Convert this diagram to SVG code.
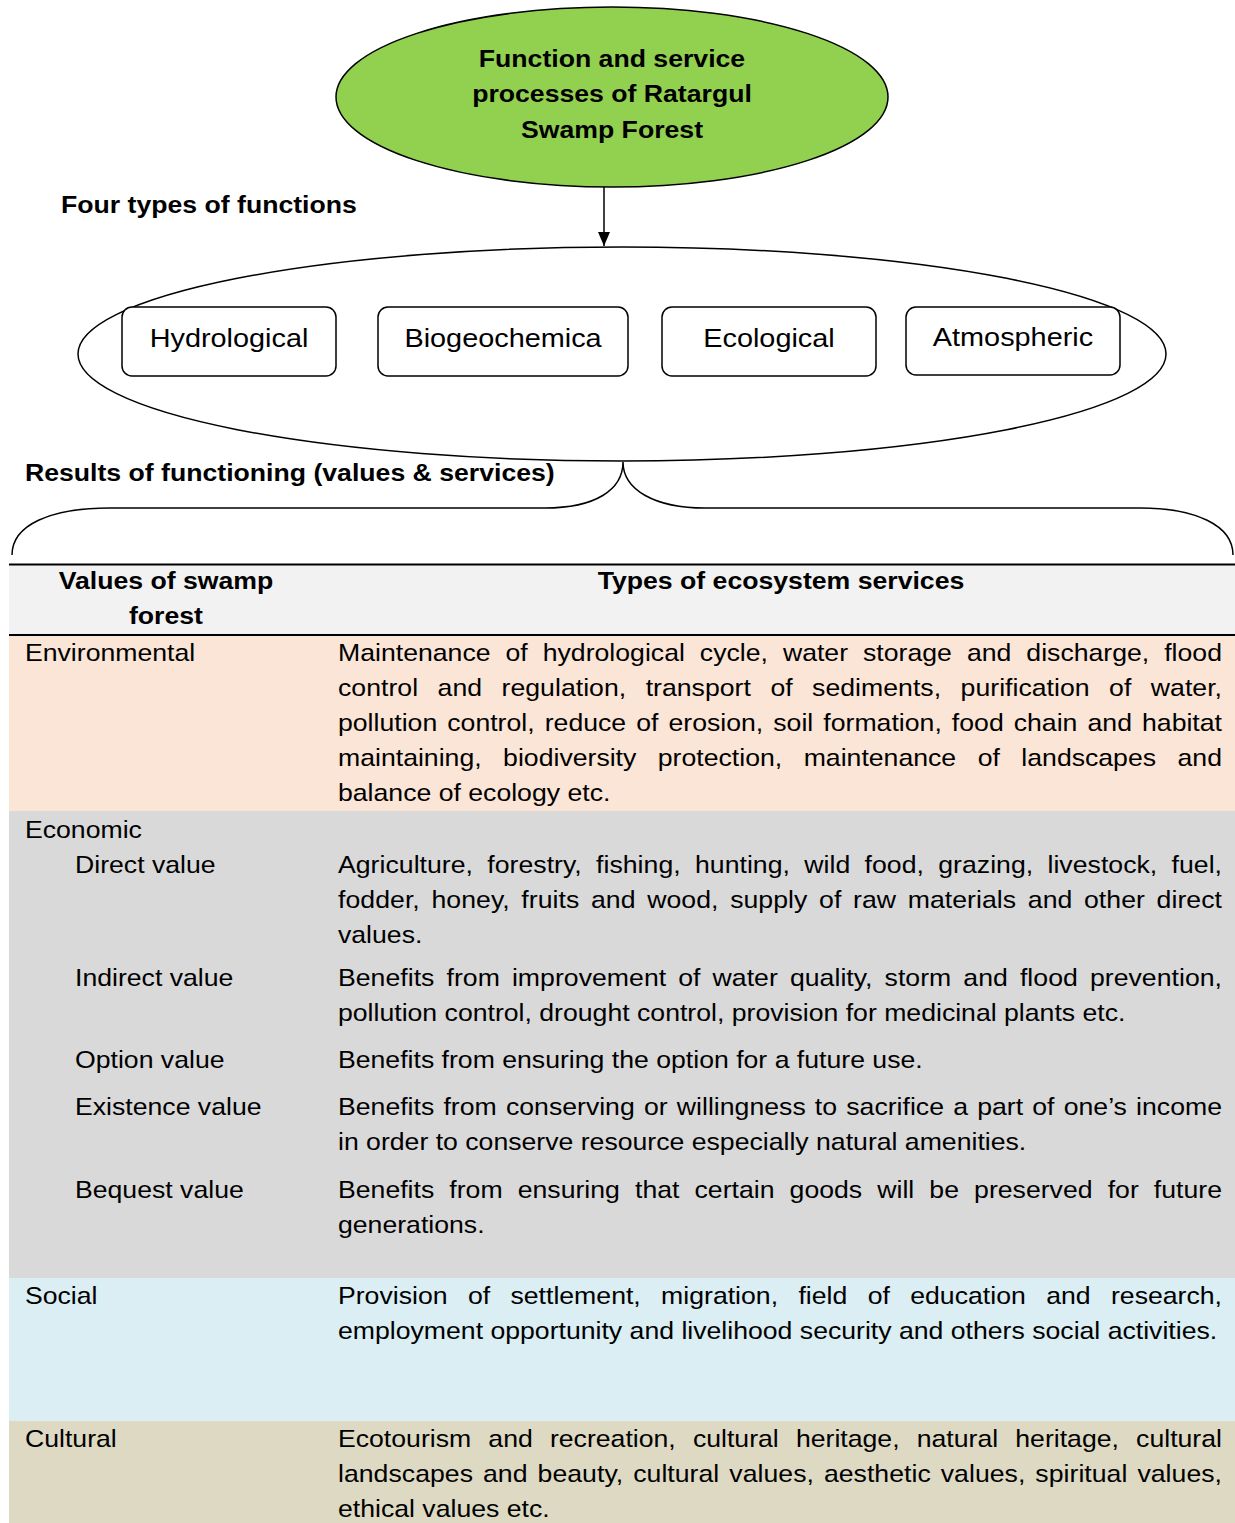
<svg xmlns="http://www.w3.org/2000/svg" width="1235" height="1523" viewBox="0 0 1235 1523">
<defs>
<style>
.t{font-family:"Liberation Sans",Arial,sans-serif;font-size:24px;fill:#000}
.b{font-weight:bold}
.c{text-anchor:middle}
.lbl{font-size:26px}
.ln{fill:none;stroke:#000;stroke-width:1.5}
.box{fill:#fff;stroke:#000;stroke-width:1.5}
</style>
<marker id="ah" viewBox="0 0 14 12" refX="14" refY="6" markerWidth="14" markerHeight="12" markerUnits="userSpaceOnUse" orient="auto">
<path d="M0,0 L14,6 L0,12 z" fill="#000"/>
</marker>
</defs>
<rect width="1235" height="1523" fill="#fff"/>

<g id="node-title">
<ellipse cx="612" cy="97" rx="276" ry="90" fill="#92D050" stroke="#000" stroke-width="1.5"/>
<g transform="scale(1.11 1)" class="t b c">
<text x="551.35" y="67">Function and service</text>
<text x="551.35" y="102">processes of Ratargul</text>
<text x="551.35" y="138">Swamp Forest</text>
</g>
</g>

<g id="label-four" transform="scale(1.11 1)">
<text class="t b" x="54.95" y="213">Four types of functions</text>
</g>

<g id="node-functions">
<ellipse cx="622" cy="354" rx="544" ry="107" class="ln"/>
</g>
<g id="node-hydrological">
<rect x="122" y="307" width="214" height="69" rx="10" class="box"/>
<text class="t lbl c" transform="scale(1.11 1)" x="206.3" y="347">Hydrological</text>
</g>
<g id="node-biogeochemica">
<rect x="378" y="307" width="250" height="69" rx="10" class="box"/>
<text class="t lbl c" transform="scale(1.11 1)" x="453.2" y="347">Biogeochemica</text>
</g>
<g id="node-ecological">
<rect x="662" y="307" width="214" height="69" rx="10" class="box"/>
<text class="t lbl c" transform="scale(1.11 1)" x="692.8" y="347">Ecological</text>
</g>
<g id="node-atmospheric">
<rect x="906" y="307" width="214" height="68" rx="10" class="box"/>
<text class="t lbl c" transform="scale(1.11 1)" x="912.6" y="346">Atmospheric</text>
</g>

<g id="label-results" transform="scale(1.11 1)">
<text class="t b" x="22.52" y="481">Results of functioning (values &amp; services)</text>
</g>

<g id="connectors">
<line x1="604" y1="187" x2="604" y2="246" class="ln" marker-end="url(#ah)"/>
<path class="ln" d="M12 555 C12 525 50 508 110 508 L545 508 C595 508 623 490 623 462 C623 490 655 508 705 508 L1140 508 C1195 508 1233 525 1233 555"/>
</g>

<g id="table">
<rect x="9" y="564" width="1226" height="71" fill="#F2F2F2"/>
<rect x="9" y="636" width="1226" height="175" fill="#FBE5D6"/>
<rect x="9" y="811" width="1226" height="467" fill="#D9D9D9"/>
<rect x="9" y="1278" width="1226" height="143" fill="#DAEEF3"/>
<rect x="9" y="1421" width="1226" height="102" fill="#DDD9C3"/>
<line x1="9" y1="564.5" x2="1235" y2="564.5" stroke="#000" stroke-width="2"/>
<line x1="9" y1="635" x2="1235" y2="635" stroke="#000" stroke-width="2"/>
<g transform="scale(1.11 1)" class="t">
<text class="b c" x="149.5" y="589">Values of swamp</text>
<text class="b c" x="149.5" y="624">forest</text>
<text class="b c" x="703.6" y="589">Types of ecosystem services</text>

<text x="22.52" y="661">Environmental</text>
<text x="304.5" y="661" word-spacing="6.84" textLength="796.4" lengthAdjust="spacing">Maintenance of hydrological cycle, water storage and discharge, flood</text>
<text x="304.5" y="696" word-spacing="10.84" textLength="796.4" lengthAdjust="spacing">control and regulation, transport of sediments, purification of water,</text>
<text x="304.5" y="731" word-spacing="2.4" textLength="796.4" lengthAdjust="spacing">pollution control, reduce of erosion, soil formation, food chain and habitat</text>
<text x="304.5" y="766" word-spacing="12.68" textLength="796.4" lengthAdjust="spacing">maintaining, biodiversity protection, maintenance of landscapes and</text>
<text x="304.5" y="801">balance of ecology etc.</text>

<text x="22.52" y="838">Economic</text>
<text x="67.57" y="873">Direct value</text>
<text x="304.5" y="873" word-spacing="6.18" textLength="796.4" lengthAdjust="spacing">Agriculture, forestry, fishing, hunting, wild food, grazing, livestock, fuel,</text>
<text x="304.5" y="908" word-spacing="3.76" textLength="796.4" lengthAdjust="spacing">fodder, honey, fruits and wood, supply of raw materials and other direct</text>
<text x="304.5" y="943">values.</text>
<text x="67.57" y="986">Indirect value</text>
<text x="304.5" y="986" word-spacing="4.16" textLength="796.4" lengthAdjust="spacing">Benefits from improvement of water quality, storm and flood prevention,</text>
<text x="304.5" y="1021">pollution control, drought control, provision for medicinal plants etc.</text>
<text x="67.57" y="1068">Option value</text>
<text x="304.5" y="1068">Benefits from ensuring the option for a future use.</text>
<text x="67.57" y="1115">Existence value</text>
<text x="304.5" y="1115" word-spacing="1.59" textLength="796.4" lengthAdjust="spacing">Benefits from conserving or willingness to sacrifice a part of one’s income</text>
<text x="304.5" y="1150">in order to conserve resource especially natural amenities.</text>
<text x="67.57" y="1198">Bequest value</text>
<text x="304.5" y="1198" word-spacing="6.94" textLength="796.4" lengthAdjust="spacing">Benefits from ensuring that certain goods will be preserved for future</text>
<text x="304.5" y="1233">generations.</text>

<text x="22.52" y="1304">Social</text>
<text x="304.5" y="1304" word-spacing="11.68" textLength="796.4" lengthAdjust="spacing">Provision of settlement, migration, field of education and research,</text>
<text x="304.5" y="1339">employment opportunity and livelihood security and others social activities.</text>

<text x="22.52" y="1447">Cultural</text>
<text x="304.5" y="1447" word-spacing="8.77" textLength="796.4" lengthAdjust="spacing">Ecotourism and recreation, cultural heritage, natural heritage, cultural</text>
<text x="304.5" y="1482" word-spacing="2.34" textLength="796.4" lengthAdjust="spacing">landscapes and beauty, cultural values, aesthetic values, spiritual values,</text>
<text x="304.5" y="1517">ethical values etc.</text>
</g>
</g>
</svg>
